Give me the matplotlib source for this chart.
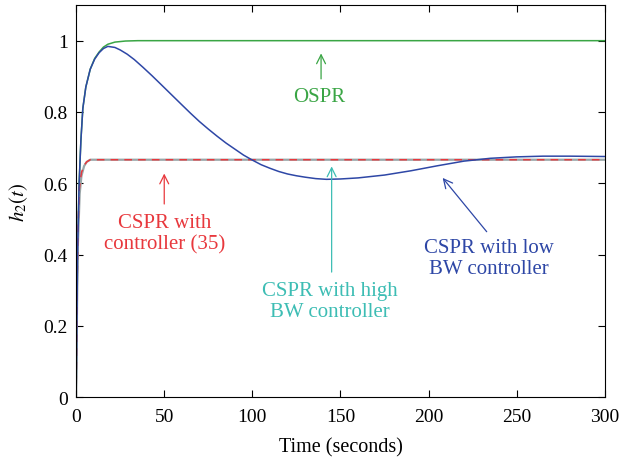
import numpy as np
import matplotlib
matplotlib.use("Agg")
import matplotlib.pyplot as plt

plt.rcParams.update({"font.family": "Liberation Serif", "mathtext.fontset": "stix",
                     "font.size": 14})

# curves
t_ospr = [0, 0.4, 0.8, 1.7, 2.7, 3.8, 5.5, 8, 10.5, 13, 15.5, 18, 22, 28, 35, 300]
h_ospr = [0, 0.2, 0.4, 0.6, 0.72, 0.81, 0.87, 0.92, 0.95, 0.968, 0.982, 0.99, 0.996,
          0.999, 1.0, 1.0]

t_low = [0, 0.4, 0.8, 1.7, 2.7, 3.8, 5.5, 8, 10.5, 13, 15.5, 18, 22, 25, 29, 33, 38,
         43, 48, 54, 60, 65, 70, 75, 80, 85, 90, 95, 100, 105, 110, 115, 120, 125, 130,
         136, 142, 150, 160, 175, 190, 205, 220, 235, 250, 265, 280, 300]
h_low = [0, 0.2, 0.4, 0.6, 0.72, 0.81, 0.87, 0.92, 0.948, 0.966, 0.978, 0.984, 0.981,
         0.974, 0.962, 0.947, 0.925, 0.902, 0.878, 0.849, 0.82, 0.796, 0.773, 0.752,
         0.732, 0.713, 0.696, 0.679, 0.665, 0.652, 0.642, 0.633, 0.626, 0.621, 0.617,
         0.613, 0.611, 0.612, 0.615, 0.623, 0.635, 0.649, 0.662, 0.670, 0.674, 0.676,
         0.676, 0.675]

t_high = [0, 0.5, 1, 2, 3, 4.5, 6, 8, 300]
h_high = [0, 0.25, 0.43, 0.57, 0.62, 0.648, 0.66, 0.666, 0.666]

t_c35 = [0, 0.5, 1, 1.7, 3, 4.5, 6, 8, 300]
h_c35 = [0, 0.3, 0.45, 0.58, 0.63, 0.65, 0.66, 0.666, 0.666]

GREEN = "#3aa545"
BLUE = "#2e47a6"
RED = "#e8383d"
CYAN = "#3dbdb4"

fig = plt.figure(figsize=(6.19, 4.64), dpi=100)
ax = fig.add_axes([0.123, 0.142, 0.854, 0.845])

ax.plot(t_ospr, h_ospr, color=GREEN, lw=1.1)
ax.plot(t_high, h_high, color="#9aa6a8", lw=1.6)
ax.plot(t_c35, h_c35, color=RED, lw=1.1, ls=(0, (5, 4)))
ax.plot(t_low, h_low, color=BLUE, lw=1.1)

arr = dict(arrowstyle="->", lw=0.9, mutation_scale=16)
ax.annotate("", xy=(139, 0.972), xytext=(139, 0.885), arrowprops=dict(arr, color=GREEN))
ax.text(138, 0.843, "OSPR", color=GREEN, ha="center", va="center", fontsize=15)

ax.annotate("", xy=(50, 0.635), xytext=(50, 0.534), arrowprops=dict(arr, color=RED))
ax.text(50, 0.46, "CSPR with\ncontroller (35)", color=RED, ha="center", va="center",
        linespacing=1.15, fontsize=15)

ax.annotate("", xy=(145, 0.655), xytext=(145, 0.343), arrowprops=dict(arr, color=CYAN))
ax.text(144, 0.27, "CSPR with high\nBW controller", color=CYAN, ha="center", va="center",
        linespacing=1.15, fontsize=15)

ax.annotate("", xy=(207, 0.621), xytext=(234, 0.458), arrowprops=dict(arr, color=BLUE))
ax.text(234, 0.39, "CSPR with low\nBW controller", color=BLUE, ha="center", va="center",
        linespacing=1.15, fontsize=15)

ax.set_xlim(0, 300)
ax.set_ylim(0, 1.1)
ax.set_xticks([0, 50, 100, 150, 200, 250, 300])
ax.set_yticks([0, 0.2, 0.4, 0.6, 0.8, 1])
ax.set_yticklabels(["0", "0.2", "0.4", "0.6", "0.8", "1"])
ax.tick_params(direction="in", top=True, right=True, length=5)
ax.tick_params(axis="x", pad=8)
ax.tick_params(axis="y", pad=6)
ax.set_xlabel("Time (seconds)", fontsize=14.5, labelpad=9)
ax.set_ylabel("$h_2(t)$", fontsize=15, labelpad=10)

fig.savefig("out.png", dpi=100)
